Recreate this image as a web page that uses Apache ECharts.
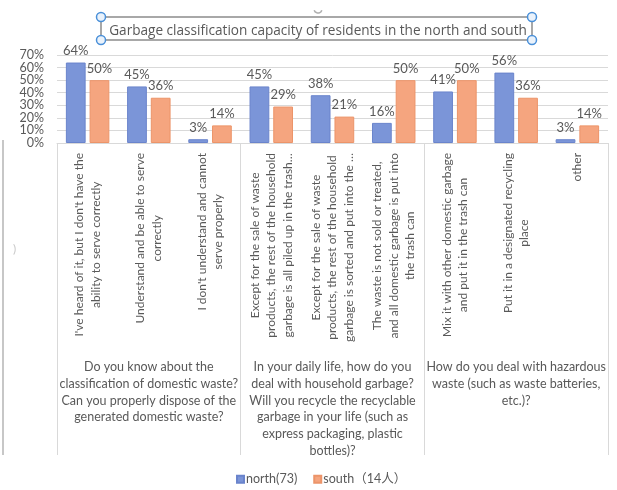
<!DOCTYPE html>
<html>
<head>
<meta charset="utf-8">
<script src="https://cdn.jsdelivr.net/npm/echarts@6/dist/echarts.min.js"></script>
<style>
  html, body { margin: 0; padding: 0; background: #ffffff; }
  #chart { width: 617px; height: 490px; }
</style>
</head>
<body>
<div id="chart"></div>
<script>
// Answer options (each entry is the list of wrapped lines drawn under the axis)
const answers = [
  ["I've heard of it, but I don't have the", "ability to serve correctly"],
  ["Understand and be able to serve", "correctly"],
  ["I don't understand and cannot", "serve properly"],
  ["Except for the sale of waste", "products, the rest of the household", "garbage is all piled up in the trash…"],
  ["Except for the sale of waste", "products, the rest of the household", "garbage is sorted and put into the …"],
  ["The waste is not sold or treated,", "and all domestic garbage is put into", "the trash can"],
  ["Mix it with other domestic garbage", "and put it in the trash can"],
  ["Put it in a designated recycling", "place"],
  ["other"]
];

// Survey questions, each spanning three answers
const questions = [
  "Do you know about the\nclassification of domestic waste?\nCan you properly dispose of the\ngenerated domestic waste?",
  "In your daily life, how do you\ndeal with household garbage?\nWill you recycle the recyclable\ngarbage in your life (such as\nexpress packaging, plastic\nbottles)?",
  "How do you deal with hazardous\nwaste (such as waste batteries,\netc.)?"
];

// Share of respondents (%)
const northValues = [64, 45, 3, 45, 38, 16, 41, 56, 3];
const southValues = [50, 36, 14, 29, 21, 50, 50, 36, 14];

const seriesNames = ["north(73)", "south（14人）"];
const yTicks = { min: 0, max: 70, interval: 10 };

const chartTitle = "Garbage classification capacity of residents in the north and south";

const textGray = "#595959";
const lineGray = "#d9d9d9";
const font = "Lato, 'Noto Sans', 'Noto Sans CJK SC', sans-serif";

const chart = echarts.init(document.getElementById("chart"), null, { renderer: "canvas" });

const answerKeys = answers.map(function (lines) { return lines.join("\n"); });

chart.setOption({
  animation: false,
  backgroundColor: "#ffffff",
  textStyle: { fontFamily: font },
  title: {
    text: chartTitle,
    left: 313,
    top: 19,
    textAlign: "center",
    textStyle: {
      fontFamily: "'Open Sans', sans-serif",
      fontSize: 13.6,
      fontWeight: "normal",
      color: textGray
    }
  },
  legend: {
    left: 231,
    top: 468,
    itemWidth: 7,
    itemHeight: 7,
    itemGap: 16,
    icon: "rect",
    textStyle: { fontFamily: font, fontSize: 12.5, color: textGray, padding: [0, 0, 0, -3] },
    data: seriesNames
  },
  grid: { left: 57, right: 9, top: 55, bottom: 347, containLabel: false },
  xAxis: [
    {
      type: "category",
      data: answerKeys,
      axisLine: { show: true, lineStyle: { color: lineGray, width: 1 } },
      axisTick: { show: false },
      axisLabel: {
        interval: 0,
        rotate: 90,
        margin: 10,
        color: textGray,
        fontFamily: font,
        fontSize: 12,
        lineHeight: 16.6,
        formatter: function (value) {
          return value.split("\n").map(function (l) { return "{c|" + l + "}"; }).join("\n");
        },
        rich: {
          c: { align: "center", fontFamily: font, fontSize: 12, lineHeight: 16.6, color: textGray }
        }
      }
    },
    {
      type: "category",
      data: questions,
      position: "bottom",
      gridIndex: 0,
      axisLine: { show: false },
      axisTick: { show: true, length: 312, lineStyle: { color: lineGray, width: 1 } },
      axisLabel: {
        interval: 0,
        margin: 216,
        color: textGray,
        fontFamily: font,
        fontSize: 12.5,
        lineHeight: 16.7,
        align: "center"
      }
    }
  ],
  yAxis: {
    type: "value",
    min: yTicks.min,
    max: yTicks.max,
    interval: yTicks.interval,
    axisLine: { show: false },
    axisTick: { show: false },
    splitLine: { lineStyle: { color: lineGray, width: 1 } },
    axisLabel: {
      margin: 13,
      color: textGray,
      fontFamily: font,
      fontSize: 12.5,
      showMinLabel: true,
      showMaxLabel: true,
      formatter: "{value}%"
    }
  },
  series: [
    {
      name: seriesNames[0],
      type: "bar",
      xAxisIndex: 0,
      data: northValues,
      barGap: "20%",
      barCategoryGap: "29%",
      itemStyle: { color: "#7b95d8", borderColor: "#6a84cc", borderWidth: 1 },
      label: {
        show: true,
        position: "top",
        distance: 5,
        formatter: "{c}%",
        color: textGray,
        fontFamily: font,
        fontSize: 13
      }
    },
    {
      name: seriesNames[1],
      type: "bar",
      xAxisIndex: 0,
      data: southValues,
      barGap: "20%",
      barCategoryGap: "29%",
      itemStyle: { color: "#f5a57f", borderColor: "#ec9469", borderWidth: 1 },
      label: {
        show: true,
        position: "top",
        distance: 5,
        formatter: "{c}%",
        color: textGray,
        fontFamily: font,
        fontSize: 13
      }
    }
  ],
  graphic: [
    // selection frame around the title with its corner handles
    {
      type: "rect",
      shape: { x: 101, y: 17, width: 431, height: 23 },
      style: { fill: null, stroke: "#8c8c8c", lineWidth: 1.5 },
      silent: true
    },
    {
      type: "arc",
      shape: { cx: 318, cy: 9, r: 4, startAngle: 0.3, endAngle: Math.PI - 0.3 },
      style: { fill: null, stroke: "#b0b0b0", lineWidth: 1.5 },
      silent: true
    },
    { type: "circle", shape: { cx: 101, cy: 17, r: 4.5 }, style: { fill: "#eaf2fb", stroke: "#4a90d9", lineWidth: 1.5 }, silent: true },
    { type: "circle", shape: { cx: 532, cy: 17, r: 4.5 }, style: { fill: "#eaf2fb", stroke: "#4a90d9", lineWidth: 1.5 }, silent: true },
    { type: "circle", shape: { cx: 101, cy: 40, r: 4.5 }, style: { fill: "#eaf2fb", stroke: "#4a90d9", lineWidth: 1.5 }, silent: true },
    { type: "circle", shape: { cx: 532, cy: 40, r: 4.5 }, style: { fill: "#eaf2fb", stroke: "#4a90d9", lineWidth: 1.5 }, silent: true },
    // panel edge on the left
    {
      type: "line",
      shape: { x1: 3, y1: 140, x2: 3, y2: 455 },
      style: { stroke: "#b5b5b5", lineWidth: 1.5 },
      silent: true
    },
    {
      type: "text",
      x: 13,
      y: 243,
      style: { text: ")", fontFamily: font, fontSize: 12, fill: "#c8c8c8" },
      silent: true
    }
  ]
});
</script>
</body>
</html>
